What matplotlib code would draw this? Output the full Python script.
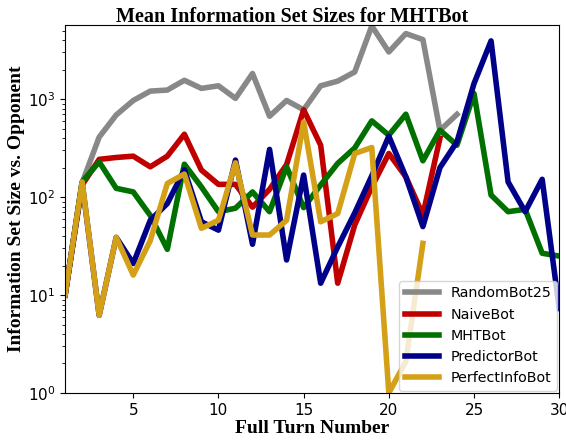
import matplotlib
matplotlib.use("Agg")
import matplotlib.pyplot as plt

# mean information set size per full turn
random_bot = [10, 140, 410, 690, 970, 1210, 1240, 1560, 1290, 1370, 1020, 1830,
              670, 970, 780, 1370, 1530, 1900, 5600, 3040, 4680, 4060, 480, 700]
naive_bot = [10, 133, 243, 254, 262, 204, 262, 439, 189, 135, 135, 79,
             120, 215, 780, 339, 13.2, 52, 127, 279, 161, 66, 400]
mht_bot = [10, 143, 229, 123, 113, 65, 29.3, 217, 127, 71, 77, 113,
           71, 204, 78, 133, 221, 318, 601, 429, 703, 235, 483, 339,
           1143, 105, 71, 75, 26.7, 25]
predictor_bot = [10, 140, 6.2, 38.8, 21, 58, 86, 190, 56, 46, 239, 33,
                 307, 22.8, 168, 13.2, 31, 69, 165, 419, 161, 50, 200, 367,
                 1446, 3940, 143, 71, 152, 7.3]
perfect_bot = [10, 143, 6.2, 38.8, 16, 36, 138, 172, 48, 58, 224, 41,
               41, 58, 587, 56, 68, 279, 321, 1.0, 2.1, 33.7]

names = ["RandomBot25", "NaiveBot", "MHTBot", "PredictorBot", "PerfectInfoBot"]
colors = ["#888888", "#c00000", "#007000", "#000088", "#d4a017"]
series = [random_bot, naive_bot, mht_bot, predictor_bot, perfect_bot]

fig = plt.figure(figsize=(5.66, 4.42), dpi=100)
ax = fig.add_axes([0.115, 0.111, 0.873, 0.832])

for vals, name, c in zip(series, names, colors):
    turns = list(range(1, len(vals) + 1))
    ax.plot(turns, vals, color=c, linewidth=4, label=name)

ax.set_yscale("log")
ax.set_xlim(1, 30)
ax.set_ylim(1, 5700)
ax.set_xticks([5, 10, 15, 20, 25, 30])
ax.tick_params(labelsize=11)

serif = {"family": "Liberation Serif", "weight": "bold", "size": 14}
# title sits a bit left of the axes centre in the original
fig.text(0.517, 0.962, "Mean Information Set Sizes for MHTBot",
         ha="center", va="center", family="Liberation Serif",
         weight="bold", size=14.5)
ax.set_xlabel("Full Turn Number", fontdict=serif, labelpad=2)
ax.set_ylabel("Information Set Size vs. Opponent", fontdict=serif, labelpad=2)

ax.legend(loc="lower right", fontsize=10.3, handlelength=2.4,
          borderaxespad=0.15, labelspacing=0.5)

fig.savefig("out.png", dpi=100)
